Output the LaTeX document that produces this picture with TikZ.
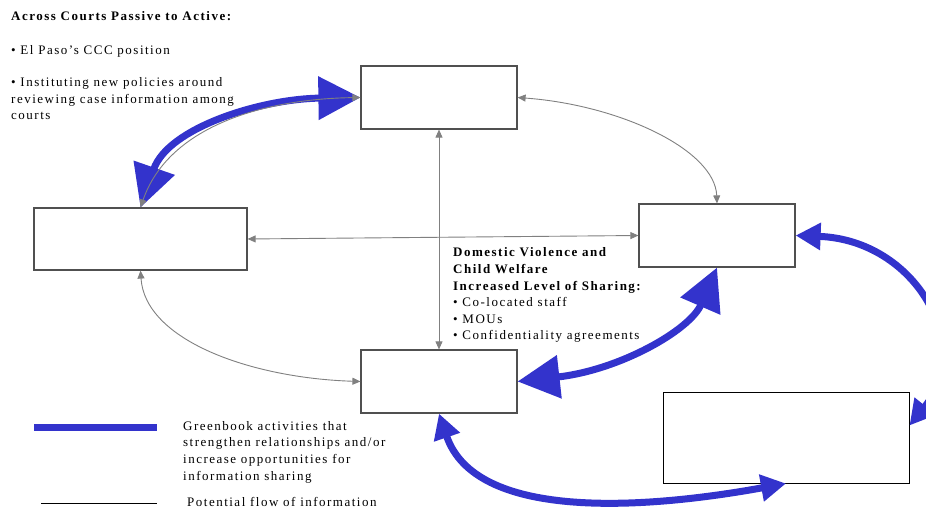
\documentclass[tikz,border=0pt]{standalone}
\usepackage{fontspec}
\setmainfont{Liberation Serif}[LetterSpace=11.5]
\usetikzlibrary{arrows.meta,calc}
\definecolor{linkblue}{RGB}{51,51,204}
\definecolor{flowgrey}{RGB}{128,128,128}
\definecolor{boxedge}{RGB}{80,80,80}
\begin{document}
\begin{tikzpicture}[x=1pt,y=-1pt,
  agency/.style={draw=boxedge,line width=1.2pt,fill=white,inner sep=0pt},
  txt/.style={anchor=base west,align=left,inner sep=0pt,font=\fontsize{13}{16.6}\selectfont},
  flow/.style={draw=flowgrey,line width=0.9pt,{Triangle[length=8pt,width=7pt]}-{Triangle[length=8pt,width=7pt]}},
  bigtie/.style={draw=linkblue,line width=7pt,{Triangle[length=42pt,width=42pt]}-{Triangle[length=42pt,width=42pt]}},
  smalltie/.style={draw=linkblue,line width=7pt,{Triangle[length=25pt,width=26pt]}-{Triangle[length=25pt,width=26pt]}}
]
\useasboundingbox (0,0) rectangle (926,510);
\clip (0,0) rectangle (926,510);

% agencies
\node[agency,minimum width=156pt,minimum height=63pt] (top) at (439,97.5) {};
\node[agency,minimum width=213pt,minimum height=62pt] (left) at (140.5,239) {};
\node[agency,minimum width=156pt,minimum height=63pt] (right) at (717,235.5) {};
\node[agency,minimum width=156pt,minimum height=63pt] (bottom) at (439,381.5) {};
\node[agency,draw=black,line width=1pt,minimum width=246pt,minimum height=91pt] (corner) at (786,437.5) {};

% Greenbook activities
\draw[bigtie] (top.west) .. controls (260,99) and (168,128) .. (left.north);
\draw[bigtie] (bottom.east) .. controls (620,370) and (690,330) .. (right.south);
\coordinate (cornerin) at ($(corner.east)+(0,-12)$);
\draw[smalltie] (right.east) .. controls (915,240) and (975,345) .. (cornerin);
\draw[smalltie] (bottom.south) .. controls (475,520) and (640,510) .. (corner.south);

% potential flow of information
\draw[flow] (top.west) .. controls (260,99) and (168,128) .. (left.north);
\draw[flow] (top.east) .. controls (620,105) and (715,150) .. (right.north);
\draw[flow] (left.east) -- (right.west);
\draw[flow] (top.south) -- (bottom.north);
\draw[flow] (left.south) .. controls (145,340) and (250,378) .. (bottom.west);

% texts (base anchor sits on the last line)
\node[txt] (courts) at (11,21) {\textbf{Across Courts Passive to Active:}};
\node[txt] (ccc) at (11,55) {• El Paso’s CCC position};
\node[txt] (policies) at (11,120) {• Instituting new policies around\\reviewing case information among\\courts};
\node[txt] (dvcw) at (453,340) {\textbf{Domestic Violence and}\\\textbf{Child Welfare}\\\textbf{Increased Level of Sharing:}\\• Co-located staff\\• MOUs\\• Confidentiality agreements};

% legend
\coordinate (keyA) at (34,427.5);
\coordinate (keyB) at (157,427.5);
\draw[linkblue,line width=6.5pt] (keyA) -- (keyB);
\coordinate (keyC) at (41,503.3);
\coordinate (keyD) at (157,503.3);
\draw[black,line width=1pt] (keyC) -- (keyD);
\node[txt] (keyblue) at (183,480) {Greenbook activities that\\strengthen relationships and/or\\increase opportunities for\\information sharing};
\node[txt] (keyflow) at (187,506.7) {Potential flow of information};
\end{tikzpicture}
\end{document}
